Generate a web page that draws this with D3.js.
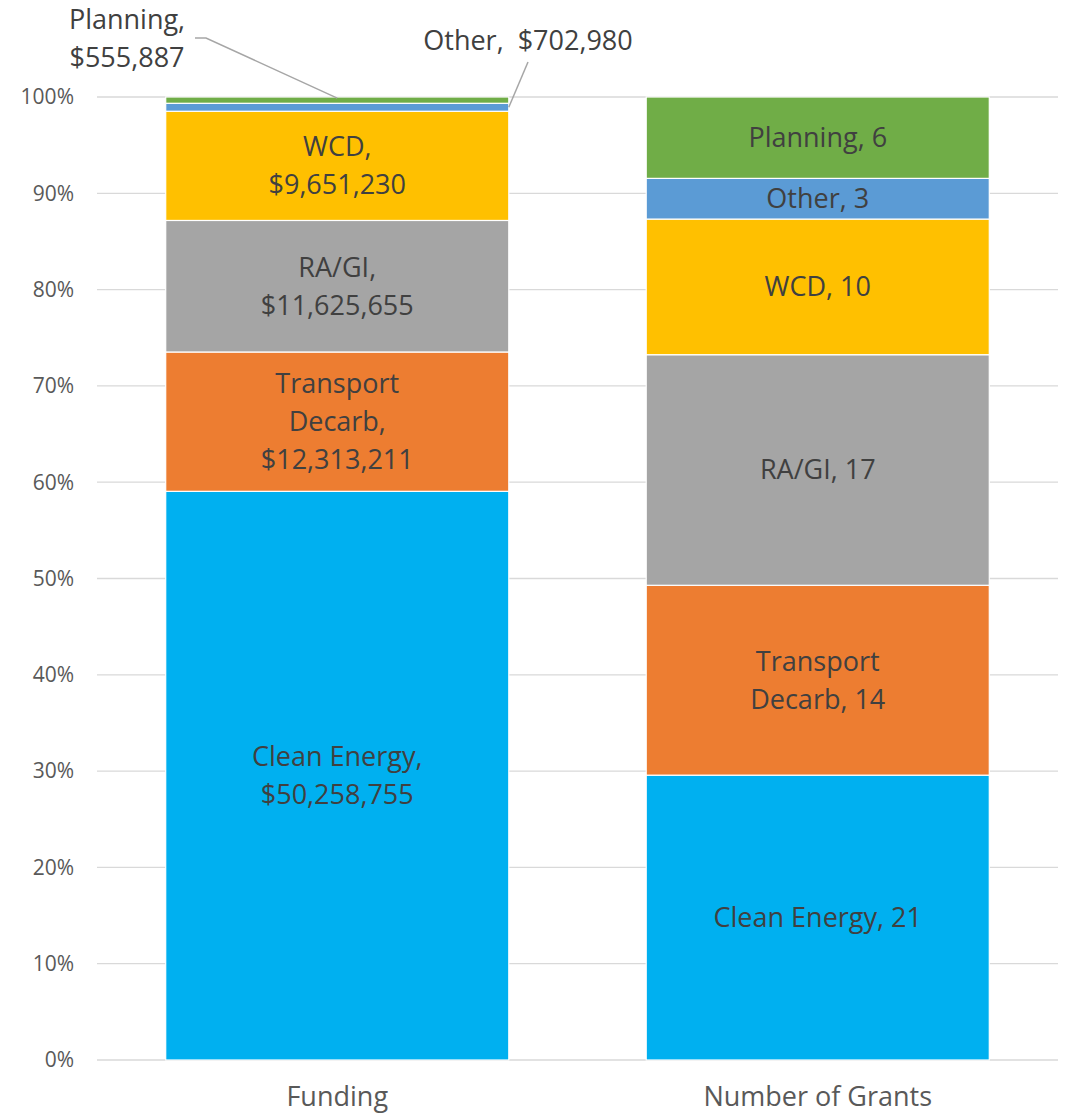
<!DOCTYPE html>
<html><head><meta charset="utf-8">
<script src="https://cdn.jsdelivr.net/npm/d3@7"></script>
<style>body{margin:0;background:#fff}text{font-family:"Open Sans",sans-serif}</style>
</head><body><svg id="c" width="1068" height="1117"></svg>
<script>
const categories = ["Funding", "Number of Grants"];
const seriesNames = ["Clean Energy", "Transport Decarb", "RA/GI", "WCD", "Other", "Planning"];
const fundingValues = [50258755, 12313211, 11625655, 9651230, 702980, 555887];
const grantValues = [21, 14, 17, 10, 3, 6];
const seriesColors = ["#00B0F0", "#ED7D31", "#A5A5A5", "#FFC000", "#5B9BD5", "#70AD47"];
const fundingLabels = [["Clean Energy,", "$50,258,755"], ["Transport", "Decarb,", "$12,313,211"], ["RA/GI,", "$11,625,655"], ["WCD,", "$9,651,230"], ["Other,  $702,980"], ["Planning,", "$555,887"]];
const grantLabels = [["Clean Energy, 21"], ["Transport", "Decarb, 14"], ["RA/GI, 17"], ["WCD, 10"], ["Other, 3"], ["Planning, 6"]];
const yTicks = [0, 0.1, 0.2, 0.3, 0.4, 0.5, 0.6, 0.7, 0.8, 0.9, 1.0];

const svg = d3.select("#c");
const m = {l: 97, r: 10, t: 97, b: 57};
const W = 1068, H = 1117;
const x = d3.scaleBand().domain(categories).range([m.l, W - m.r]).paddingInner(0.286).paddingOuter(0.143);
const y = d3.scaleLinear().domain([0, 1]).range([H - m.b, m.t]);

svg.append("g").selectAll("line").data(yTicks).join("line")
  .attr("x1", m.l).attr("x2", W - m.r)
  .attr("y1", d => y(d)).attr("y2", d => y(d))
  .attr("stroke", "#D9D9D9").attr("stroke-width", 1.3);

svg.append("g").selectAll("text").data(yTicks).join("text")
  .attr("x", 74).attr("y", d => y(d)).attr("dy", "0.35em")
  .attr("text-anchor", "end").attr("fill", "#595959").attr("font-size", 21)
  .text(d => d3.format(".0%")(d));

const datasets = [fundingValues, grantValues];
const labelsets = [fundingLabels, grantLabels];
const stacks = datasets.map((vals, ci) => {
  const tot = d3.sum(vals);
  let acc = 0;
  return vals.map((v, i) => {
    const y0 = acc / tot; acc += v; const y1 = acc / tot;
    return {cat: categories[ci], i, y0, y1, lines: labelsets[ci][i]};
  });
});
const allSegs = stacks.flat();

svg.append("g").selectAll("rect").data(allSegs).join("rect")
  .attr("x", d => x(d.cat)).attr("width", x.bandwidth())
  .attr("y", d => y(d.y1)).attr("height", d => y(d.y0) - y(d.y1))
  .attr("fill", d => seriesColors[d.i])
  .attr("stroke", "#fff").attr("stroke-width", 1.2);

const lh = 38;
const fs = 27;
const inside = allSegs.filter(d => !(d.cat === "Funding" && d.i >= 4));
svg.append("g").selectAll("text").data(inside).join("text")
  .attr("text-anchor", "middle").attr("fill", "#404040").attr("font-size", fs)
  .attr("x", d => x(d.cat) + x.bandwidth() / 2)
  .attr("y", d => (y(d.y0) + y(d.y1)) / 2 - (d.lines.length - 1) * lh / 2)
  .each(function(d) {
    d3.select(this).selectAll("tspan").data(d.lines).join("tspan")
      .attr("x", x(d.cat) + x.bandwidth() / 2)
      .attr("dy", (t, k) => k === 0 ? "0.35em" : lh)
      .text(t => t);
  });

const fx = x("Funding"), fw = x.bandwidth();
const planning = stacks[0][5], other = stacks[0][4];
const lbl = svg.append("g").attr("fill", "#404040").attr("font-size", fs);
const pt = lbl.append("text").attr("text-anchor", "middle").attr("x", 127).attr("y", 20);
planning.lines.forEach((t, k) => pt.append("tspan").attr("x", 127).attr("dy", k === 0 ? "0.35em" : lh).text(t));
lbl.append("text").attr("text-anchor", "middle").attr("x", 528).attr("y", 41).attr("dy", "0.35em").style("white-space", "pre").text(other.lines[0]);

svg.append("polyline")
  .attr("points", [[195, 38], [206, 38], [fx + fw / 2, y((planning.y0 + planning.y1) / 2) - 2]].map(p => p.join(",")).join(" "))
  .attr("fill", "none").attr("stroke", "#A6A6A6").attr("stroke-width", 1.5);
svg.append("polyline")
  .attr("points", [[528, 62], [fx + fw, y((other.y0 + other.y1) / 2)]].map(p => p.join(",")).join(" "))
  .attr("fill", "none").attr("stroke", "#A6A6A6").attr("stroke-width", 1.5);

svg.append("g").selectAll("text").data(categories).join("text")
  .attr("x", d => x(d) + x.bandwidth() / 2).attr("y", 1097).attr("dy", "0.35em")
  .attr("text-anchor", "middle").attr("fill", "#595959").attr("font-size", fs)
  .text(d => d);
</script></body></html>
